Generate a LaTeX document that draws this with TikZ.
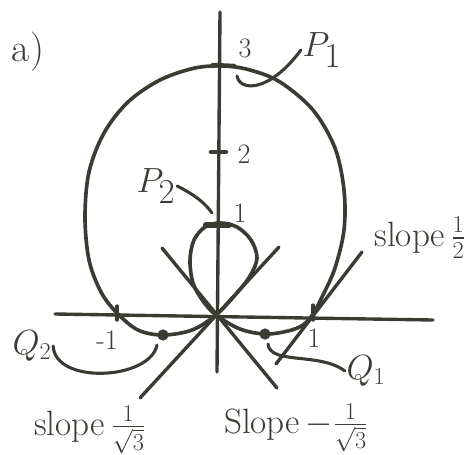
\documentclass[tikz,border=0pt]{standalone}
\usepackage{amsmath,amssymb}
\usepackage{xcolor}
\usepackage{tikz}
\usetikzlibrary{arrows.meta,positioning,calc}
\definecolor{Ink}{RGB}{58,60,52}
\tikzset{
  pen/.style={draw=Ink,line width=2.6pt,line cap=round,line join=round},
  axisline/.style={pen,line width=2.4pt},
  tickmark/.style={pen,line width=3.2pt},
  tangent/.style={pen,line width=2.4pt},
  leader/.style={pen,line width=2.2pt},
  lbl/.style={text=Ink,inner sep=1pt},
  bigl/.style={lbl,font=\fontsize{36}{38}\selectfont},
  midl/.style={lbl,font=\fontsize{27}{29}\selectfont},
  numl/.style={lbl,font=\fontsize{20}{22}\selectfont},
  slopel/.style={lbl,font=\fontsize{25}{27}\selectfont},
  dotpt/.style={circle,fill=Ink,inner sep=0pt,minimum size=8pt},
}

\begin{document}
\begin{tikzpicture}[x=0.25mm,y=-0.25mm]
  \useasboundingbox (0,0) rectangle (474,454);

  % pole and axes
  \coordinate (O)  at (216,315);
  \coordinate (yb) at (217,372);
  \coordinate (yt) at (220,12);
  \coordinate (xl) at (55,314);
  \coordinate (xr) at (433,320);
  \draw[axisline] (yb) -- (yt);
  \draw[axisline] (xl) -- (xr);

  % marked points
  \coordinate (P1) at (224,66);
  \coordinate (P2) at (219,224);
  \coordinate (A)  at (313,315);
  \coordinate (B)  at (117,315);
  \node[dotpt] (Q1) at (265,334) {};
  \node[dotpt] (Q2) at (163,335) {};

  % ticks
  \draw[tickmark] (213,65) -- (234,66);
  \draw[tickmark] (211,152) -- (226,152);
  \draw[tickmark,line width=4.5pt] (206,225) -- (229,225);
  \draw[tickmark,line width=2.4pt] (313,305) -- (313,320);
  \draw[tickmark,line width=2.4pt] (117,306) -- (117,320);

  % the curve r = 1 + 2 sin(theta)
  \draw[pen] plot[smooth cycle,tension=0.55] coordinates {
    (313,314) (323,295) (335,268) (344,230) (344,190) (335,148)
    (313,110) (280,82) (250,70) (224,66) (195,68) (160,80)
    (128,102) (104,133) (89,172) (85,217) (89,260) (101,292)
    (117,313) (138,330) (163,335) (192,330) (216,315)
    (236,294) (250,276) (257,258) (251,240) (237,227) (220,223)
    (205,227) (194,240) (190,260) (193,283) (203,301) (216,315)
    (240,329) (265,334) (288,331) (303,325)};

  % tangent lines
  \coordinate (t1a) at (140,398);
  \coordinate (t1b) at (279,247);
  \coordinate (t2a) at (162,248);
  \coordinate (t2b) at (277,388);
  \coordinate (t3a) at (276,364);
  \coordinate (t3b) at (362,252);
  \draw[tangent] (t1a) -- (t1b);
  \draw[tangent] (t2a) -- (t2b);
  \draw[tangent] (t3a) -- (t3b);

  % labels
  \node[lbl,font=\fontsize{28}{30}\selectfont] (part) at (28,52) {a)};
  \node[numl] (n3)  at (245,48)  {3};
  \node[numl] (n2)  at (244,154) {2};
  \node[numl] (n1)  at (240,213) {1};
  \node[numl] (nm1) at (107,340) {-1};
  \node[numl] (np1) at (314,338) {1};

  \node[bigl] (P1lab) at (322,50)  {$P_1$};
  \node[bigl] (P2lab) at (156,186) {$P_2$};
  \node[midl] (Q1lab) at (366,371) {$Q_1$};
  \node[midl] (Q2lab) at (32,346)  {$Q_2$};

  \node[slopel] (s3) at (420,238) {slope\,$\frac{1}{2}$};
  \node[slopel] (s1) at (90,430)  {slope\,$\frac{1}{\sqrt{3}}$};
  \node[slopel] (s2) at (296,428) {Slope\,$-\frac{1}{\sqrt{3}}$};

  % leaders
  \coordinate (P1end) at (237,76);
  \coordinate (P2end) at (212,213);
  \coordinate (Q1end) at (268,344);
  \coordinate (Q2end) at (157,345);
  \draw[leader] (P1lab.west) .. controls (270,92) and (240,92) .. (P1end);
  \draw[leader] (P2lab.east) .. controls (195,195) and (205,203) .. (P2end);
  \draw[leader] (Q1lab.west) .. controls (320,352) and (270,365) .. (Q1end);
  \draw[leader] (Q2lab.east) .. controls (55,385) and (150,380) .. (Q2end);
\end{tikzpicture}
\end{document}
